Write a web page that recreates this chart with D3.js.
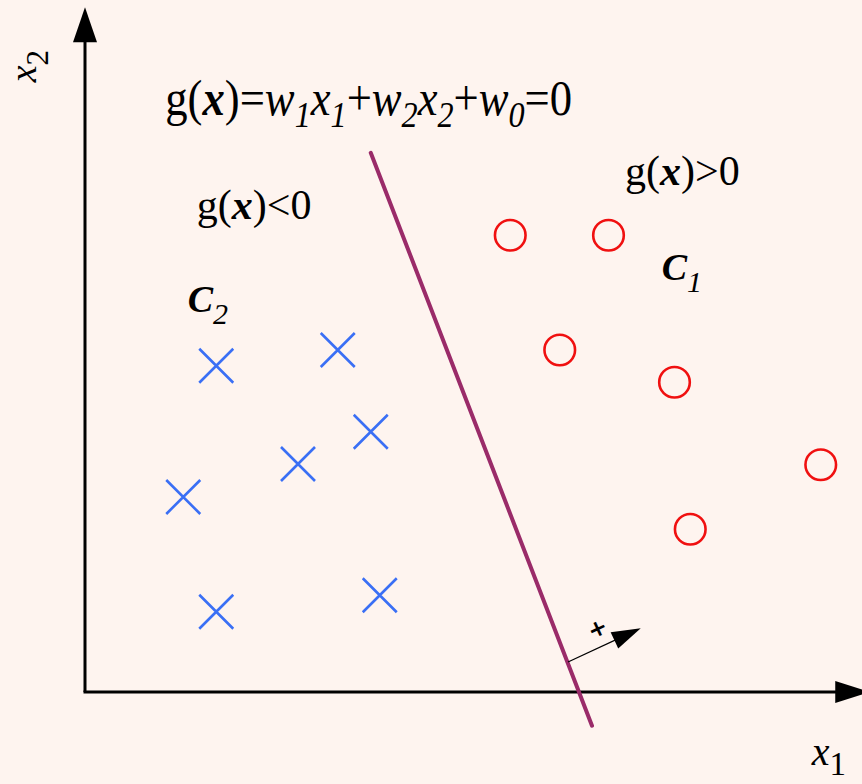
<!DOCTYPE html>
<html>
<head>
<meta charset="utf-8">
<script src="https://cdn.jsdelivr.net/npm/d3@7"></script>
<style>
  html, body { margin: 0; padding: 0; background: #fef4ef; }
  svg { display: block; }
</style>
</head>
<body>
<svg id="chart"></svg>
<script>
// class C2 samples (crosses) and class C1 samples (circles), in feature units
const classC2 = [[1.75, 4.35], [3.37, 4.56], [3.81, 3.47], [2.84, 3.04], [1.31, 2.60], [1.75, 1.07], [3.93, 1.29]]
const classC1 = [[5.67, 6.09], [6.98, 6.09], [6.33, 4.56], [7.86, 4.13], [9.81, 3.03], [8.07, 2.17]]
// decision line g(x)=0 and its normal vector
const boundary = [[3.81, 7.19], [6.76, -0.45]]
const normalVec = [[6.44, 0.40], [7.41, 0.85]]
const axisEnds = { x: 10.47, y: 9.13 }

const width = 862
const height = 784
const bg = '#fef4ef'
const crossColor = '#3a6ff5'
const circleColor = '#f01010'
const lineColor = '#9a2b69'
const serif = '"Liberation Serif", "Times New Roman", serif'

const svg = d3.select('#chart')
  .attr('width', width)
  .attr('height', height)
  .attr('viewBox', `0 0 ${width} ${height}`)

svg.append('rect').attr('width', width).attr('height', height).attr('fill', bg)

const x = d3.scaleLinear().domain([0, 10]).range([85, 835])
const y = d3.scaleLinear().domain([0, 9]).range([692, 17])

// arrow head as a filled triangle, tip at (tx,ty), pointing along (dx,dy)
function arrowHead(tx, ty, dx, dy, len, half) {
  const l = Math.hypot(dx, dy)
  const ux = dx / l, uy = dy / l
  const bx = tx - ux * len, by = ty - uy * len
  return `M${tx},${ty}L${bx - uy * half},${by + ux * half}L${bx + uy * half},${by - ux * half}Z`
}

// axes
svg.append('line')
  .attr('x1', x(0)).attr('y1', y(0))
  .attr('x2', x(0)).attr('y2', y(axisEnds.y) + 20)
  .attr('stroke', '#000').attr('stroke-width', 3)
svg.append('path')
  .attr('d', arrowHead(x(0), y(axisEnds.y), 0, -1, 35, 12))
  .attr('fill', '#000')

svg.append('line')
  .attr('x1', x(0) - 1.5).attr('y1', y(0))
  .attr('x2', x(axisEnds.x) - 20).attr('y2', y(0))
  .attr('stroke', '#000').attr('stroke-width', 3)
svg.append('path')
  .attr('d', arrowHead(x(axisEnds.x), y(0), 1, 0, 35, 11))
  .attr('fill', '#000')

// decision boundary
svg.append('line')
  .attr('x1', x(boundary[0][0])).attr('y1', y(boundary[0][1]))
  .attr('x2', x(boundary[1][0])).attr('y2', y(boundary[1][1]))
  .attr('stroke', lineColor).attr('stroke-width', 4)
  .attr('stroke-linecap', 'round')

// normal vector
const n0 = [x(normalVec[0][0]), y(normalVec[0][1])]
const n1 = [x(normalVec[1][0]), y(normalVec[1][1])]
const ndx = n1[0] - n0[0], ndy = n1[1] - n0[1]
const nl = Math.hypot(ndx, ndy)
svg.append('line')
  .attr('x1', n0[0]).attr('y1', n0[1])
  .attr('x2', n1[0] - ndx / nl * 20).attr('y2', n1[1] - ndy / nl * 20)
  .attr('stroke', '#000').attr('stroke-width', 1.2)
svg.append('path')
  .attr('d', arrowHead(n1[0], n1[1], ndx, ndy, 29, 9))
  .attr('fill', '#000')
svg.append('text')
  .attr('transform', `translate(${x(6.83)},${y(0.85)}) rotate(${Math.atan2(ndy, ndx) * 180 / Math.PI})`)
  .attr('text-anchor', 'middle')
  .attr('dy', '0.35em')
  .attr('font-family', '"DejaVu Sans", sans-serif')
  .attr('font-weight', 'bold')
  .attr('font-size', 23)
  .text('+')

// crosses
const cs = 17
svg.append('g').selectAll('path')
  .data(classC2)
  .join('path')
  .attr('d', d => {
    const cx = x(d[0]), cy = y(d[1])
    return `M${cx - cs},${cy - cs}L${cx + cs},${cy + cs}M${cx - cs},${cy + cs}L${cx + cs},${cy - cs}`
  })
  .attr('stroke', crossColor)
  .attr('stroke-width', 2.6)
  .attr('fill', 'none')

// circles
svg.append('g').selectAll('circle')
  .data(classC1)
  .join('circle')
  .attr('cx', d => x(d[0]))
  .attr('cy', d => y(d[1]))
  .attr('r', 15.3)
  .attr('fill', 'none')
  .attr('stroke', circleColor)
  .attr('stroke-width', 2.6)

// rich text: parts are [text, style] where style: r, i, b, bi, sub, isub
function richText(px, py, size, subSize, subShift, parts, opts = {}) {
  const t = svg.append('text')
    .attr('x', px).attr('y', py)
    .attr('font-family', serif)
    .attr('font-size', size)
    .attr('fill', '#000')
  let down = false
  parts.forEach(([s, st]) => {
    const isSub = st === 'sub' || st === 'isub'
    const ts = t.append('tspan').text(s)
    if (isSub && !down) { ts.attr('dy', subShift); down = true }
    if (!isSub && down) { ts.attr('dy', -subShift); down = false }
    if (isSub) ts.attr('font-size', subSize)
    if (st === 'i' || st === 'bi' || st === 'isub') ts.attr('font-style', 'italic')
    if (st === 'b' || st === 'bi') ts.attr('font-weight', 'bold')
  })
  if (opts.width) {
    const w = t.node().getComputedTextLength()
    t.attr('x', 0).attr('y', 0)
      .attr('transform', `translate(${px},${py}) scale(${opts.width / w},1)`)
  }
  if (opts.rotate) {
    t.attr('x', 0).attr('y', 0)
      .attr('transform', `translate(${px},${py}) rotate(${opts.rotate})`)
  }
  return t
}

const formula = [['g', 'r'], ['(', 'r'], ['x', 'bi'], [')', 'r'], ['=', 'r'],
  ['w', 'i'], ['1', 'isub'], ['x', 'i'], ['1', 'isub'], ['+', 'r'],
  ['w', 'i'], ['2', 'isub'], ['x', 'i'], ['2', 'isub'], ['+', 'r'],
  ['w', 'i'], ['0', 'isub'], ['=', 'r'], ['0', 'r']]
richText(x(1.07), y(7.69), 50, 36, 12, formula, { width: 407 })

richText(x(1.49), y(6.31), 42, 30, 12, [['g', 'r'], ['(', 'r'], ['x', 'bi'], [')', 'r'], ['<', 'r'], ['0', 'r']])
richText(x(7.20), y(6.76), 42, 30, 12, [['g', 'r'], ['(', 'r'], ['x', 'bi'], [')', 'r'], ['>', 'r'], ['0', 'r']])

richText(x(1.37), y(5.07), 38, 30, 12, [['C', 'bi'], ['2', 'isub']])
richText(x(7.69), y(5.50), 38, 30, 12, [['C', 'bi'], ['1', 'isub']])

// axis titles
richText(x(9.69), y(-0.97), 40, 33, 10, [['x', 'i'], ['1', 'sub']])
richText(36, y(8.13), 38, 31, 12, [['x', 'i'], ['2', 'sub']], { rotate: -90 })
</script>
</body>
</html>
